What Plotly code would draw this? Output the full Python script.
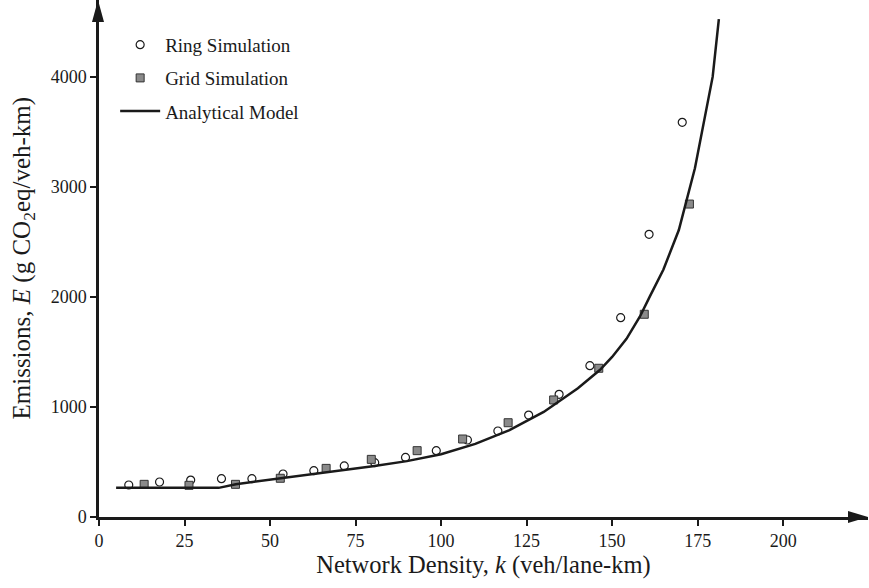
import plotly.graph_objects as go

# Ring simulation (open circles)
ring_k = [8.7, 17.7, 26.8, 35.8, 44.7, 53.8, 62.8, 71.7, 80.6, 89.6, 98.6, 107.7,
          116.6, 125.6, 134.5, 143.5, 152.5, 160.8, 170.5]
ring_e = [291, 318, 336, 348, 348, 391, 421, 464, 494, 542, 603, 700,
          782, 927, 1115, 1376, 1812, 2570, 3588]

# Grid simulation (grey squares)
grid_k = [13.2, 26.3, 39.9, 53.0, 66.4, 79.6, 93.0, 106.3, 119.6, 132.9, 146.1, 159.4, 172.6]
grid_e = [297, 288, 297, 352, 442, 524, 603, 709, 857, 1064, 1352, 1843, 2845]

# Analytical model (solid line)
model_k = [5, 35, 40, 50, 60, 70, 80, 90, 100, 110, 120, 130, 140, 146.4,
           150, 154.2, 158.1, 161, 165, 169.5, 174.2, 179.4, 181.2]
model_e = [265, 265, 298, 338, 378, 420, 462, 508, 570, 665, 790, 955, 1170, 1336,
           1455, 1620, 1821, 2003, 2250, 2609, 3170, 4003, 4527]

x_ticks = [0, 25, 50, 75, 100, 125, 150, 175, 200]
y_ticks = [0, 1000, 2000, 3000, 4000]

FONT = "Liberation Serif, Times New Roman, serif"

fig = go.Figure()
fig.add_trace(go.Scatter(
    x=ring_k, y=ring_e, mode="markers", name="Ring Simulation",
    marker=dict(symbol="circle-open", size=8, color="#1a1a1a", line=dict(width=1.2)),
    legendgroup="a"))
fig.add_trace(go.Scatter(
    x=grid_k, y=grid_e, mode="markers", name="Grid Simulation",
    marker=dict(symbol="square", size=8, color="#8a8a8a", line=dict(width=1, color="#333333")),
    legendgroup="b"))
fig.add_trace(go.Scatter(
    x=model_k, y=model_e, mode="lines", name="Analytical Model",
    line=dict(color="#1a1a1a", width=2.5),
    legendgroup="c"))

XMAX = 224.8
YMAX = 4700

fig.update_layout(
    width=869, height=588,
    margin=dict(l=99, r=1, t=0, b=71),
    paper_bgcolor="white", plot_bgcolor="white",
    font=dict(family=FONT, size=18, color="#1a1a1a"),
    showlegend=True,
    legend=dict(x=0.021, y=0.95, xanchor="left", yanchor="top",
                bgcolor="rgba(0,0,0,0)", font=dict(size=19, family=FONT),
                tracegroupgap=5.5, itemwidth=40),
    xaxis=dict(range=[0, XMAX], tickvals=x_ticks, ticks="outside", ticklen=6,
               tickwidth=1.5, tickcolor="#1a1a1a",
               showline=True, linecolor="#1a1a1a", linewidth=2.5,
               showgrid=False, zeroline=False,
               title=dict(text="Network Density, <i>k</i> (veh/lane-km)",
                          font=dict(size=24.5, family=FONT), standoff=6)),
    yaxis=dict(range=[0, YMAX], tickvals=y_ticks, ticks="outside", ticklen=6,
               tickwidth=1.5, tickcolor="#1a1a1a",
               showline=True, linecolor="#1a1a1a", linewidth=2.5,
               showgrid=False, zeroline=False),
)

# y-axis title placed as rotated text
fig.add_annotation(text="Emissions, <i>E</i> (g CO<sub>2</sub>eq/veh-km)",
                   xref="paper", yref="paper", x=0, y=0.5, xshift=-76,
                   xanchor="center", yanchor="middle", textangle=-90, showarrow=False,
                   font=dict(size=25, family=FONT, color="#1a1a1a"))

# arrowheads at the axis ends (paper-referenced so they are not clipped)
fig.add_shape(type="path", xref="paper", yref="paper", xsizemode="pixel", ysizemode="pixel",
              xanchor=0, yanchor=1, path="M -1,0 L -7,-22 L 5,-22 Z",
              fillcolor="#1a1a1a", line=dict(width=0), layer="above")
fig.add_shape(type="path", xref="paper", yref="paper", xsizemode="pixel", ysizemode="pixel",
              xanchor=1, yanchor=0, path="M 0,0 L -20,6 L -20,-6 Z",
              fillcolor="#1a1a1a", line=dict(width=0), layer="above")

fig.write_html("out.html")
